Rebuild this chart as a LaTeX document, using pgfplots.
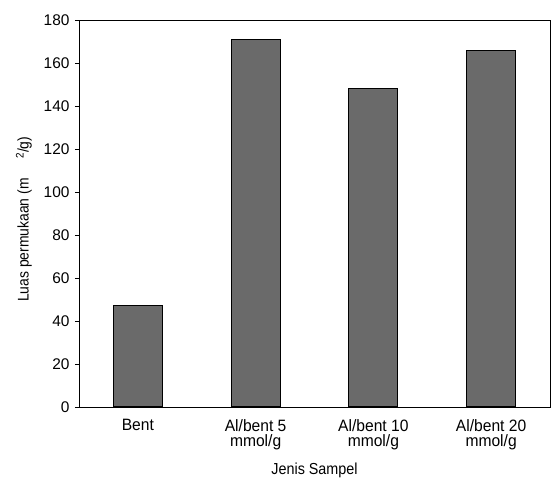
\documentclass[border=0pt]{standalone}
\usepackage{pgfplots}
\pgfplotsset{compat=1.18}
\usepackage{fontspec}
\setmainfont{Liberation Sans}[FakeStretch=0.9]
\newfontfamily\widesans{Liberation Sans}[FakeStretch=0.95]
\newfontfamily\plainsans{Liberation Sans}
\definecolor{barfill}{RGB}{106,106,106}

\begin{document}
\begin{tikzpicture}
\begin{axis}[
  scale only axis,
  width=471bp, height=387bp,
  xmin=-0.5, xmax=3.5,
  ymin=0, ymax=180,
  axis line style={line width=0.9pt},
  tick align=outside,
  xtick pos=bottom, ytick pos=left,
  ytick={0,20,...,180},
  major tick length=4bp,
  tick style={line width=0.6pt, black},
  xtick={0,1,2,3},
  xticklabels={Bent, {Al/bent 5\\mmol/g}, {Al/bent 10\\mmol/g}, {Al/bent 20\\mmol/g}},
  major x tick style={draw=none},
  extra x ticks={0.5,1.5,2.5},
  extra x tick labels={},
  extra x tick style={major tick length=3bp, tick style={line width=0.5pt, black!70}},
  xticklabel style={align=center, font=\widesans\fontsize{16.5}{15}\selectfont, yshift=-5bp},
  yticklabel style={font=\plainsans\fontsize{15.5}{16}\selectfont, xshift=-2bp},
  /pgf/number format/assume math mode=true,
  xlabel={Jenis Sampel},
  xlabel style={font=\fontsize{16}{16}\selectfont, yshift=1bp},
  ylabel={Luas permukaan (m\hspace{20bp}\raisebox{5bp}{\fontsize{11}{11}\selectfont 2}/g)},
  ylabel style={at={(axis description cs:-0.117,0.485)}, anchor=center,
                font=\fontsize{15.5}{15.5}\selectfont},
]
  % specific surface area of each sample
  \addplot[ybar, bar width=49bp, fill=barfill, draw=black, line width=1.1pt]
    coordinates {(0,47) (1,171) (2,148) (3,166)};
  \coordinate (SW) at (rel axis cs:0,0);
  \coordinate (NE) at (rel axis cs:1,1);
\end{axis}
\pgfresetboundingbox
\path[use as bounding box] ([shift={(-79bp,-71bp)}]SW) rectangle ([shift={(2bp,20bp)}]NE);
\end{tikzpicture}
\end{document}
